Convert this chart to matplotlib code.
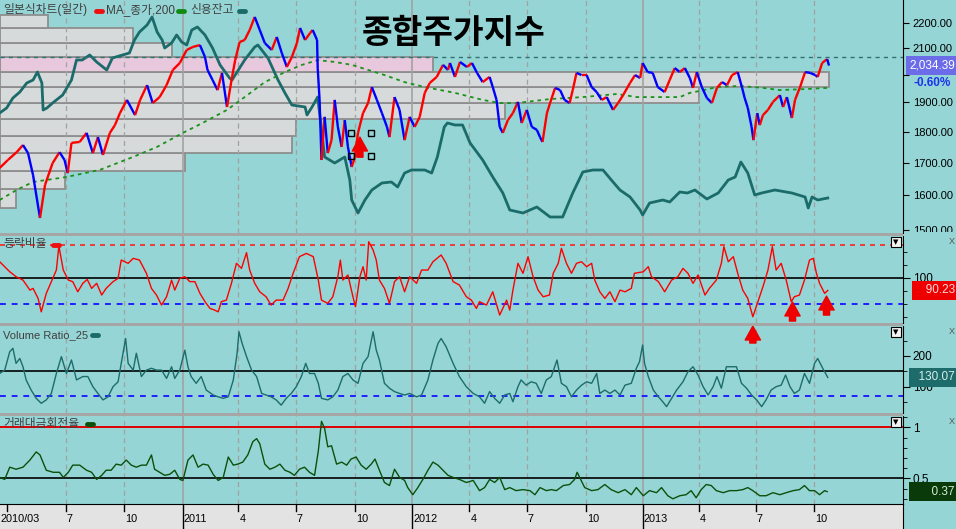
import numpy as np
import pandas as pd
import matplotlib
matplotlib.use("Agg")
import matplotlib.pyplot as plt
import matplotlib.dates as mdates
from matplotlib import transforms
from matplotlib.collections import LineCollection
from matplotlib.lines import Line2D
from matplotlib.patches import Rectangle
from matplotlib.ticker import FixedLocator, MultipleLocator, NullLocator, FixedFormatter

plt.rcParams['font.family'] = ['Liberation Sans', 'Noto Sans CJK KR', 'DejaVu Sans']

# ---------------- data ----------------
price_dates = [
    '2010-03-18','2010-03-31','2010-04-14','2010-04-24','2010-05-02','2010-05-10','2010-05-21','2010-05-29','2010-06-10','2010-06-21',
    '2010-06-29','2010-07-04','2010-07-10','2010-07-23','2010-08-03','2010-08-13','2010-08-21','2010-08-29','2010-09-09','2010-09-17',
    '2010-09-25','2010-10-06','2010-10-19','2010-10-27','2010-11-07','2010-11-16','2010-11-27','2010-12-08','2010-12-18','2010-12-29',
    '2011-01-09','2011-01-19','2011-01-30','2011-02-07','2011-02-11','2011-02-19','2011-02-27','2011-03-06','2011-03-14','2011-03-22',
    '2011-03-27','2011-04-03','2011-04-11','2011-04-19','2011-04-27','2011-05-05','2011-05-13','2011-05-24','2011-06-01','2011-06-09',
    '2011-06-17','2011-06-25','2011-07-03','2011-07-08','2011-07-16','2011-07-24','2011-07-28','2011-08-04','2011-08-05','2011-08-08',
    '2011-08-11','2011-08-16','2011-08-21','2011-08-27','2011-09-01','2011-09-06','2011-09-12','2011-09-17','2011-09-22','2011-09-28',
    '2011-10-03','2011-10-08','2011-10-16','2011-10-24','2011-10-30','2011-11-07','2011-11-15','2011-11-23','2011-11-27','2011-12-05',
    '2011-12-13','2011-12-21','2011-12-29',
    '2012-01-06','2012-01-14','2012-01-22','2012-01-30','2012-02-10','2012-02-20','2012-02-28','2012-03-02','2012-03-10','2012-03-18',
    '2012-03-29','2012-04-06','2012-04-14','2012-04-23','2012-05-04','2012-05-09','2012-05-15','2012-05-20','2012-05-25','2012-06-02',
    '2012-06-10','2012-06-18','2012-06-24','2012-07-02','2012-07-10','2012-07-18','2012-07-23','2012-07-27','2012-08-03','2012-08-08',
    '2012-08-16','2012-08-24','2012-08-31','2012-09-08','2012-09-13','2012-09-19','2012-09-27','2012-10-05','2012-10-13','2012-10-21',
    '2012-10-29','2012-11-06','2012-11-16','2012-11-24','2012-12-02','2012-12-13','2012-12-21','2012-12-29',
    '2013-01-02','2013-01-10','2013-01-18','2013-01-26','2013-02-06','2013-02-14','2013-02-22','2013-03-02','2013-03-10','2013-03-18',
    '2013-03-23','2013-03-29','2013-04-06','2013-04-14','2013-04-22','2013-04-30','2013-05-08','2013-05-16','2013-05-24','2013-06-02',
    '2013-06-09','2013-06-13','2013-06-18','2013-06-24','2013-06-27','2013-07-03','2013-07-07','2013-07-12','2013-07-20','2013-07-28',
    '2013-08-08','2013-08-13','2013-08-19','2013-08-24','2013-08-27','2013-09-01','2013-09-09','2013-09-17','2013-09-25','2013-10-03',
    '2013-10-07','2013-10-14','2013-10-22','2013-10-25']
price_close = [
    1683,1708,1733,1756,1730,1661,1534,1631,1698,1733,
    1708,1667,1763,1766,1796,1730,1782,1724,1796,1822,
    1863,1909,1856,1909,1962,1898,1919,1962,2018,2044,
    2094,2106,2113,2067,2018,1981,1944,2007,1884,1992,
    2055,2125,2133,2173,2226,2173,2121,2094,2145,2082,
    2029,2067,2121,2181,2133,2161,2173,2133,2025,1909,
    1708,1850,1730,1772,1909,1816,1750,1839,1750,1686,
    1717,1796,1863,1898,1955,1909,1863,1816,1782,1919,
    1874,1772,1850,
    1816,1850,1934,1970,1992,2037,2018,2044,1992,2048,
    2029,2044,2007,1973,1992,1955,1909,1816,1796,1839,
    1863,1902,1829,1874,1816,1806,1782,1766,1863,1898,
    1952,1944,1909,1898,1944,2007,1999,1999,1955,1937,
    1909,1919,1874,1898,1926,1970,1999,1988,
    2044,2010,2007,1955,1937,1981,2025,2010,2025,1988,
    1952,2010,1955,1916,1898,1952,1973,1962,1999,2010,
    1952,1916,1881,1816,1772,1863,1822,1856,1874,1902,
    1926,1884,1919,1874,1846,1909,1955,2010,2007,1999,
    1992,2044,2059,2034.39]
recent_high = 2066
last_change = '-0.60%'

ma_dates = ['2010-03-18','2010-04-14','2010-05-10','2010-07-02','2010-08-24','2010-10-15','2010-11-23','2011-01-03','2011-02-03','2011-03-14',
            '2011-04-11','2011-05-13','2011-06-14','2011-07-11','2011-08-05','2011-09-01','2011-09-28','2011-10-24','2011-11-19','2011-12-21',
            '2012-01-22','2012-03-10','2012-04-23','2012-05-20','2012-06-16','2012-08-08','2012-09-29','2012-11-22','2012-12-24','2013-03-02',
            '2013-03-18','2013-04-03','2013-04-30','2013-06-05','2013-07-12','2013-08-08','2013-09-19','2013-10-23']
ma_vals = [1586,1616,1640,1655,1677,1717,1750,1796,1829,1874,
           1919,1973,2010,2037,2055,2048,2037,2018,1999,1973,
           1955,1934,1909,1898,1898,1912,1919,1930,1919,1919,
           1934,1941,1955,1959,1952,1944,1948,1952]

credit_dates = [
    '2010-03-18','2010-03-29','2010-04-08','2010-04-19','2010-04-30','2010-05-10','2010-05-17','2010-05-24','2010-05-26','2010-06-01',
    '2010-06-10','2010-06-26','2010-07-10','2010-07-18','2010-07-27','2010-08-08','2010-08-19','2010-09-04','2010-09-13','2010-09-29',
    '2010-10-10','2010-10-18','2010-10-26','2010-11-07','2010-11-15','2010-11-23','2010-12-01','2010-12-05','2010-12-16','2010-12-24',
    '2011-01-01','2011-01-09','2011-01-17','2011-01-26','2011-02-07','2011-02-19','2011-03-03','2011-03-18','2011-03-22','2011-04-11',
    '2011-04-27','2011-05-02','2011-05-18','2011-06-03','2011-06-14','2011-06-25','2011-07-16','2011-07-19','2011-07-27','2011-08-05',
    '2011-08-16','2011-09-01','2011-09-17','2011-09-25','2011-09-28','2011-10-08','2011-10-19','2011-10-30','2011-11-15','2011-11-30',
    '2011-12-10','2011-12-21',
    '2012-01-01','2012-01-22','2012-02-02','2012-02-11','2012-02-22','2012-02-27','2012-03-10','2012-03-22','2012-04-03','2012-04-23',
    '2012-05-09','2012-05-25','2012-06-05','2012-06-26','2012-07-18','2012-08-08','2012-08-28','2012-09-13','2012-09-29','2012-10-15',
    '2012-10-31','2012-11-16','2012-11-27','2012-12-13','2012-12-29',
    '2013-01-02','2013-01-13','2013-02-03','2013-02-14','2013-03-02','2013-03-14','2013-03-26','2013-04-14','2013-05-02','2013-05-18',
    '2013-05-29','2013-06-07','2013-06-18','2013-06-29','2013-07-10','2013-07-31','2013-08-27','2013-09-17','2013-09-22','2013-09-28',
    '2013-10-07','2013-10-23']
credit_vals = [
    5.40,5.50,5.70,5.82,6.00,6.06,6.22,6.00,5.46,5.50,
    5.60,5.76,6.06,6.46,6.46,6.56,6.42,6.26,6.50,6.56,
    6.60,6.86,7.02,7.16,7.32,7.02,6.86,6.70,6.80,6.96,
    6.82,6.76,7.06,7.12,6.96,6.70,6.36,6.10,6.06,6.46,
    6.72,6.76,6.50,6.06,5.80,5.56,5.52,5.36,5.52,5.72,
    4.52,4.40,4.52,4.06,3.66,3.40,3.66,3.86,4.00,4.02,
    3.92,4.20,
    4.26,4.26,4.20,4.52,5.12,5.20,5.16,5.16,4.80,4.46,
    4.12,3.80,3.46,3.40,3.52,3.32,3.32,3.80,4.22,4.26,
    4.26,4.02,3.86,3.72,3.46,
    3.36,3.60,3.66,3.62,3.82,3.80,3.86,3.68,3.80,4.06,
    4.12,4.42,4.20,3.76,3.80,3.86,3.80,3.72,3.50,3.72,
    3.66,3.70]

# price bands of the volume profile and their relative volume
profile_edges = [1563,1619,1675,1731,1787,1843,1899,1955,2011,2067,2123,2179,2235]
profile_vol = [1.9,7.8,22.3,35.2,35.7,60.9,84.3,100.0,52.2,20.7,16.0,5.8]

adr_dates = [
    '2010-03-18','2010-03-26','2010-04-03','2010-04-13','2010-04-24','2010-05-05','2010-05-10','2010-05-18','2010-05-23','2010-05-31',
    '2010-06-08','2010-06-16','2010-06-20','2010-06-27','2010-07-05','2010-07-12','2010-07-20','2010-07-28','2010-08-04','2010-08-11',
    '2010-08-19','2010-08-27','2010-09-03','2010-09-14','2010-09-22','2010-09-27','2010-10-08','2010-10-16','2010-10-26','2010-11-06',
    '2010-11-14','2010-11-22','2010-11-30','2010-12-08','2010-12-16','2010-12-21','2010-12-29',
    '2011-01-06','2011-01-14','2011-01-22','2011-01-30','2011-02-07','2011-02-15','2011-02-22','2011-02-28','2011-03-05','2011-03-13',
    '2011-03-21','2011-03-29','2011-04-06','2011-04-14','2011-04-19','2011-04-27','2011-05-05','2011-05-15','2011-05-23','2011-05-31',
    '2011-06-11','2011-06-19','2011-06-27','2011-07-07','2011-07-18','2011-07-29','2011-08-06','2011-08-11','2011-08-21','2011-08-29',
    '2011-09-06','2011-09-10','2011-09-14','2011-09-22','2011-09-30','2011-10-04','2011-10-11','2011-10-16','2011-10-21','2011-10-25',
    '2011-11-01','2011-11-06','2011-11-11','2011-11-19','2011-11-27','2011-12-05','2011-12-13','2011-12-21','2011-12-29',
    '2012-01-09','2012-01-17','2012-01-27','2012-02-04','2012-02-17','2012-02-25','2012-03-07','2012-03-17','2012-03-28','2012-04-05',
    '2012-04-13','2012-04-18','2012-04-29','2012-05-09','2012-05-20','2012-05-31','2012-06-05','2012-06-10','2012-06-18','2012-06-26',
    '2012-07-04','2012-07-12','2012-07-20','2012-07-28','2012-08-07','2012-08-13','2012-08-21','2012-08-26','2012-09-03','2012-09-11',
    '2012-09-19','2012-09-27','2012-10-05','2012-10-13','2012-10-18','2012-10-26','2012-11-03','2012-11-11','2012-11-19','2012-11-27',
    '2012-12-05','2012-12-15','2012-12-20',
    '2013-01-03','2013-01-11','2013-01-16','2013-01-27','2013-02-06','2013-02-17','2013-02-27','2013-03-07','2013-03-15','2013-03-23',
    '2013-03-31','2013-04-11','2013-04-18','2013-04-29','2013-05-07','2013-05-11','2013-05-18','2013-05-26','2013-06-02','2013-06-10',
    '2013-06-18','2013-06-26','2013-07-04','2013-07-12','2013-07-20','2013-07-27','2013-08-02','2013-08-10','2013-08-18','2013-08-26',
    '2013-08-31','2013-09-08','2013-09-16','2013-09-24','2013-09-30','2013-10-05','2013-10-10','2013-10-18','2013-10-23']
adr_vals = [
    112.3,108.5,104.6,100.8,98.2,90.5,91.8,84.1,73.8,88.0,
    97.0,105.9,124.4,105.9,98.2,97.0,89.2,95.7,98.7,91.8,
    95.7,86.7,91.8,97.0,99.5,113.6,111.1,114.9,113.6,103.4,
    91.8,86.7,79.0,85.4,98.2,90.5,99.5,
    100.8,97.0,97.0,88.0,81.6,76.4,75.2,73.8,81.6,82.8,
    95.7,111.1,107.2,119.3,105.9,95.7,89.2,85.4,79.0,82.8,
    82.8,91.8,103.4,116.2,118.7,116.2,98.2,82.8,80.3,85.4,
    100.8,113.6,98.2,102.1,85.4,77.7,100.8,108.5,98.2,127.7,
    121.3,113.6,98.2,91.8,80.3,97.0,100.8,89.2,100.8,
    95.7,105.9,105.9,112.3,117.5,111.1,97.0,94.4,85.4,82.8,
    76.4,81.6,79.0,89.2,71.3,82.8,75.1,90.5,111.1,103.4,
    116.2,100.8,90.5,85.4,86.7,103.4,111.1,122.6,111.1,103.4,
    111.1,112.3,108.5,111.1,98.2,89.2,84.1,89.2,81.6,90.5,
    89.2,91.8,103.4,
    104.6,108.5,100.8,97.0,89.2,98.2,100.8,107.2,103.4,95.7,
    102.1,86.7,91.8,98.2,111.1,123.9,112.3,116.2,103.4,90.5,
    84.1,70.0,81.6,93.0,105.9,123.9,105.9,111.1,98.2,81.6,
    85.4,86.7,98.2,113.6,114.9,103.4,95.7,88.0,90.23]

vr_dates = [
    '2010-03-18','2010-03-26','2010-04-03','2010-04-08','2010-04-13','2010-04-19','2010-04-24','2010-04-29','2010-05-07','2010-05-15',
    '2010-05-23','2010-05-31','2010-06-08','2010-06-16','2010-06-24','2010-07-02','2010-07-10','2010-07-18','2010-07-28','2010-08-05',
    '2010-08-13','2010-08-21','2010-08-29','2010-09-06','2010-09-14','2010-09-22','2010-09-27','2010-10-04','2010-10-08','2010-10-16',
    '2010-10-21','2010-10-29','2010-11-06','2010-11-14','2010-11-22','2010-11-30','2010-12-08','2010-12-16','2010-12-21','2010-12-29',
    '2011-01-06','2011-01-11','2011-01-16','2011-01-24','2011-02-01','2011-02-09','2011-02-20','2011-02-28','2011-03-08','2011-03-16',
    '2011-03-24','2011-03-30','2011-04-02','2011-04-07','2011-04-14','2011-04-22','2011-04-30','2011-05-08','2011-05-15','2011-05-23',
    '2011-05-31','2011-06-08','2011-06-16','2011-06-24','2011-07-02','2011-07-10','2011-07-17','2011-07-23','2011-07-31','2011-08-06',
    '2011-08-11','2011-08-21','2011-08-29','2011-09-06','2011-09-14','2011-09-22','2011-09-30','2011-10-08','2011-10-16','2011-10-24',
    '2011-11-01','2011-11-06','2011-11-11','2011-11-19','2011-11-27','2011-12-05','2011-12-13','2011-12-21','2011-12-29',
    '2012-01-09','2012-01-17','2012-01-27','2012-02-04','2012-02-12','2012-02-17','2012-02-25','2012-03-07','2012-03-17','2012-03-28',
    '2012-04-08','2012-04-18','2012-04-26','2012-05-04','2012-05-12','2012-05-20','2012-05-28','2012-06-05','2012-06-10','2012-06-18',
    '2012-06-23','2012-07-01','2012-07-09','2012-07-17','2012-07-25','2012-08-02','2012-08-10','2012-08-19','2012-08-26','2012-09-03',
    '2012-09-11','2012-09-19','2012-09-27','2012-10-05','2012-10-13','2012-10-21','2012-10-26','2012-11-03','2012-11-11','2012-11-19',
    '2012-11-27','2012-12-05','2012-12-15','2012-12-23','2012-12-28',
    '2013-01-02','2013-01-05','2013-01-11','2013-01-19','2013-01-27','2013-02-03','2013-02-09','2013-02-17','2013-02-25','2013-03-07',
    '2013-03-15','2013-03-23','2013-03-31','2013-04-08','2013-04-16','2013-04-24','2013-04-30','2013-05-07','2013-05-15','2013-05-23',
    '2013-05-31','2013-06-08','2013-06-16','2013-06-24','2013-07-02','2013-07-10','2013-07-17','2013-07-25','2013-08-02','2013-08-10',
    '2013-08-17','2013-08-24','2013-08-31','2013-09-08','2013-09-16','2013-09-24','2013-10-02','2013-10-07','2013-10-15','2013-10-23']
vr_vals = [
    143,154,214,225,176,192,165,122,89,62,
    46,57,78,143,198,143,187,122,133,133,
    100,78,57,67,100,116,176,257,176,154,
    209,133,154,160,154,154,127,165,127,154,
    219,165,133,111,133,89,73,67,62,67,
    122,209,279,241,198,154,133,78,73,67,
    57,40,62,78,100,133,176,143,143,111,
    62,57,67,89,133,143,122,111,176,198,
    279,219,187,111,95,84,78,73,78,
    67,73,122,187,241,257,230,176,133,100,
    78,67,46,84,62,46,73,78,51,100,
    122,105,116,111,78,122,133,187,111,100,
    67,89,105,116,111,143,78,89,78,89,
    73,105,111,160,181,
    236,176,133,89,67,51,35,62,89,116,
    149,165,138,100,73,100,133,95,165,165,
    165,111,95,73,57,35,57,89,100,105,
    138,100,78,89,143,111,176,192,160,130.07]

turn_dates = [
    '2010-03-18','2010-03-26','2010-04-03','2010-04-13','2010-04-24','2010-05-05','2010-05-15','2010-05-21','2010-05-31','2010-06-11',
    '2010-06-21','2010-06-27','2010-07-05','2010-07-12','2010-07-23','2010-08-03','2010-08-11','2010-08-19','2010-08-27','2010-09-03',
    '2010-09-11','2010-09-19','2010-09-27','2010-10-05','2010-10-13','2010-10-21','2010-10-29','2010-11-06','2010-11-14','2010-11-19',
    '2010-11-27','2010-12-05','2010-12-13','2010-12-21','2010-12-29',
    '2011-01-03','2011-01-11','2011-01-19','2011-01-27','2011-02-04','2011-02-12','2011-02-20','2011-02-28','2011-03-08','2011-03-16',
    '2011-03-24','2011-03-31','2011-04-08','2011-04-16','2011-04-24','2011-04-30','2011-05-05','2011-05-13','2011-05-21','2011-05-29',
    '2011-06-06','2011-06-14','2011-06-22','2011-06-29','2011-07-07','2011-07-15','2011-07-23','2011-07-31','2011-08-06','2011-08-11',
    '2011-08-16','2011-08-21','2011-08-27','2011-09-04','2011-09-12','2011-09-20','2011-09-27','2011-10-05','2011-10-13','2011-10-21',
    '2011-10-29','2011-11-04','2011-11-11','2011-11-19','2011-11-27','2011-12-05','2011-12-13','2011-12-21','2011-12-26',
    '2012-01-03','2012-01-11','2012-01-19','2012-01-27','2012-02-04','2012-02-12','2012-02-20','2012-02-28','2012-03-07','2012-03-17',
    '2012-03-28','2012-04-08','2012-04-18','2012-04-26','2012-05-04','2012-05-12','2012-05-20','2012-05-28','2012-06-05','2012-06-15',
    '2012-06-26','2012-07-07','2012-07-15','2012-07-23','2012-08-02','2012-08-10','2012-08-18','2012-08-29','2012-09-08','2012-09-16',
    '2012-09-20','2012-09-24','2012-10-02','2012-10-13','2012-10-23','2012-11-03','2012-11-13','2012-11-24','2012-12-05','2012-12-15',
    '2012-12-23',
    '2013-01-03','2013-01-13','2013-01-24','2013-02-01','2013-02-11','2013-02-19','2013-03-02','2013-03-12','2013-03-20','2013-03-28',
    '2013-04-05','2013-04-13','2013-04-21','2013-04-29','2013-05-10','2013-05-20','2013-05-31','2013-06-10','2013-06-18','2013-06-26',
    '2013-07-07','2013-07-17','2013-07-28','2013-08-08','2013-08-18','2013-08-29','2013-09-08','2013-09-16','2013-09-24','2013-10-02',
    '2013-10-10','2013-10-18','2013-10-22']
turn_vals = [
    0.51,0.49,0.61,0.59,0.61,0.68,0.76,0.73,0.58,0.56,
    0.56,0.51,0.56,0.63,0.63,0.58,0.56,0.49,0.53,0.58,
    0.58,0.64,0.63,0.68,0.63,0.61,0.63,0.63,0.73,0.59,
    0.56,0.53,0.54,0.58,0.49,
    0.48,0.68,0.73,0.61,0.64,0.63,0.54,0.48,0.51,0.71,
    0.63,0.64,0.66,0.73,0.86,0.89,0.84,0.64,0.59,0.61,
    0.64,0.58,0.56,0.53,0.59,0.61,0.56,0.53,0.77,1.06,
    0.99,0.81,0.82,0.64,0.66,0.63,0.69,0.71,0.63,0.59,
    0.64,0.69,0.58,0.46,0.43,0.59,0.51,0.48,0.41,
    0.34,0.41,0.49,0.58,0.66,0.63,0.58,0.53,0.51,0.49,
    0.46,0.48,0.38,0.41,0.49,0.46,0.51,0.39,0.41,0.38,
    0.39,0.38,0.34,0.41,0.38,0.39,0.38,0.43,0.44,0.49,
    0.56,0.51,0.41,0.38,0.39,0.44,0.39,0.36,0.39,0.34,
    0.41,
    0.33,0.38,0.36,0.41,0.33,0.30,0.33,0.34,0.38,0.31,
    0.39,0.44,0.43,0.38,0.36,0.38,0.38,0.39,0.41,0.38,
    0.33,0.33,0.36,0.34,0.36,0.38,0.39,0.43,0.38,0.38,
    0.34,0.38,0.37]

# annotation marks drawn on the chart
mark_date, mark_lo, mark_hi = '2011-10-11', 1717, 1782
sel_dates = ['2011-09-27', '2011-10-28', '2011-09-27', '2011-10-28']
sel_prices = [1796, 1796, 1720, 1720]
adr_arrow_dates = ['2013-06-26', '2013-08-28', '2013-10-21']
adr_arrow_tip = [62.8, 81.3, 85.9]
adr_arrow_tail = [49.8, 66.7, 71.3]

tick_dates = ['2010-03-30','2010-07-01','2010-10-01','2011-01-03','2011-04-01','2011-07-01','2011-10-04',
              '2012-01-02','2012-04-02','2012-07-02','2012-10-04','2013-01-02','2013-04-01','2013-07-01','2013-10-01']
tick_labels = ['2010/03','7','10','2011','4','7','10','2012','4','7','10','2013','4','7','10']

# ---------------- drawing ----------------
def dn(lst):
    return mdates.date2num(pd.to_datetime(lst).to_numpy())

W, H, PW = 956, 529, 903
BG = '#95d5d5'
fig = plt.figure(figsize=(W / 100, H / 100), dpi=100, facecolor=BG)

def rect(y0, y1):
    return [0, 1 - y1 / H, PW / W, (y1 - y0) / H]

def fxy(x, y):
    return x / W, 1 - y / H

ax_bg = fig.add_axes(rect(0, 233))
ax = fig.add_axes(rect(0, 233), sharex=ax_bg)
ax2 = fig.add_axes(rect(236, 323), sharex=ax_bg)
ax3 = fig.add_axes(rect(326, 413), sharex=ax_bg)
ax4 = fig.add_axes(rect(416, 504), sharex=ax_bg)
axx = fig.add_axes(rect(504, 529), sharex=ax_bg)
ax_bg.set_zorder(1); ax.set_zorder(2); ax2.set_zorder(3)
ax.patch.set_visible(False)

x0 = dn(['2010-03-01'])[0] + 17.5
ax_bg.set_xlim(x0, x0 + PW * 1.588)

for a in (ax_bg, ax, ax2, ax3, ax4, axx):
    for s in ('left', 'top', 'bottom'):
        a.spines[s].set_visible(False)
    a.spines['right'].set_color('black')
    a.tick_params(axis='x', which='both', bottom=False, labelbottom=False)
    a.set_facecolor(BG)
ax_bg.spines['right'].set_visible(False)
ax_bg.tick_params(axis='y', which='both', left=False, labelleft=False)

# credit balance + volume profile on background axes
ax_bg.set_ylim(3.0, 7.66)
ptr = transforms.blended_transform_factory(ax_bg.transAxes, ax.transData)
cur_band = int(np.searchsorted(profile_edges, price_close[-1])) - 1
vmax = max(profile_vol)
for i, v in enumerate(profile_vol):
    lo, hi = profile_edges[i], profile_edges[i + 1]
    ax_bg.add_patch(Rectangle((0, lo), 0.918 * v / vmax, hi - lo, transform=ptr,
                              fc='#e8c8dc' if i == cur_band else '#d6dada', ec='#8e8e8e', lw=1.3, zorder=1))
ax_bg.plot(dn(credit_dates), credit_vals, color='#1b6b6b', lw=2.0, zorder=3)

# vertical grid
td = dn(tick_dates)
for d, lab in zip(td[1:], tick_labels[1:]):
    year = len(lab) == 4
    for a in (ax_bg, ax2, ax3, ax4):
        a.axvline(d, color='#a2a2a2', lw=1.2 if year else 0.9, ls='-' if year else (0, (4, 3)), zorder=1.5)

ARROW = dict(arrowstyle='simple,head_width=0.55,head_length=0.5,tail_width=0.22',
             mutation_scale=20, shrinkA=0, shrinkB=0, fc='#ee0000', ec='#ee0000')

# price panel
ax.set_yscale('log')
ax.set_ylim(1492, 2297)
pxs = dn(price_dates)
pys = np.array(price_close, dtype=float)
segs = [[(pxs[i], pys[i]), (pxs[i + 1], pys[i + 1])] for i in range(len(pxs) - 1)]
cols = ['#ff0000' if pys[i + 1] >= pys[i] else '#0000ff' for i in range(len(pxs) - 1)]
ax.add_collection(LineCollection(segs, colors=cols, linewidths=1.7, zorder=4))
ax.plot(dn(ma_dates), ma_vals, color='#18921a', lw=1.3, ls=(0, (2, 2.2)), zorder=3)
ax.axhline(recent_high, color='#2f7474', lw=1, ls=(0, (3, 3)), zorder=2)
ax.plot(dn(sel_dates), sel_prices, 's', mfc='none', mec='black', ms=5, mew=1, zorder=6)
md = dn([mark_date])[0]
ax.annotate('', xy=(md, mark_hi), xytext=(md, mark_lo), arrowprops=ARROW, zorder=6)

ax.yaxis.tick_right()
main_ticks = [1500, 1600, 1700, 1800, 1900, 2000, 2100, 2200]
ax.yaxis.set_major_locator(FixedLocator(main_ticks))
ax.yaxis.set_major_formatter(FixedFormatter(['' if t == 2000 else f'{t:.2f}' for t in main_ticks]))
ax.yaxis.set_minor_locator(NullLocator())
ax.tick_params(axis='y', which='major', direction='out', length=4, pad=3, labelsize=8, colors='black')

# oscillator panels
ax2.plot(dn(adr_dates), adr_vals, color='#ff0000', lw=1, zorder=3)
ax2.axhline(125, color='#ff2020', lw=1.2, ls=(0, (3, 3)), zorder=2)
ax2.axhline(100, color='black', lw=1.2, zorder=2)
ax2.axhline(80, color='#2020ff', lw=1.4, ls=(0, (3, 3)), zorder=2)
ax2.set_ylim(65.2, 132.1)

ax3.plot(dn(vr_dates), vr_vals, color='#1d6c6c', lw=1, zorder=3)
ax3.axhline(150, color='black', lw=1.2, zorder=2)
ax3.axhline(70, color='#2020ff', lw=1.4, ls=(0, (3, 3)), zorder=2)
ax3.set_ylim(14.3, 297.7)

ax4.plot(dn(turn_dates), turn_vals, color='#0c500c', lw=1, zorder=3)
ax4.axhline(1.0, color='#e00000', lw=1.4, zorder=2)
ax4.axhline(0.5, color='black', lw=1.2, zorder=2)
ax4.set_ylim(0.249, 1.112)

for a, ticks, labels, minor in ((ax2, [100], ['100'], 10), (ax3, [100, 200], ['100', '200'], 50),
                                (ax4, [0.5, 1.0], ['0.5', '1'], 0.1)):
    a.yaxis.tick_right()
    a.yaxis.set_major_locator(FixedLocator(ticks))
    a.yaxis.set_major_formatter(FixedFormatter(labels))
    a.yaxis.set_minor_locator(MultipleLocator(minor))
    a.tick_params(axis='y', which='major', direction='out', length=5, pad=2, labelsize=8.5, colors='black')
    a.tick_params(axis='y', which='minor', direction='out', length=3, colors='black')

ad = dn(adr_arrow_dates)
for d, tip, tail in zip(ad, adr_arrow_tip, adr_arrow_tail):
    ax2.annotate('', xy=(d, tip), xytext=(d, tail), annotation_clip=False, arrowprops=ARROW, zorder=8)

# value boxes on the right axis
def value_box(a, y, text, fc, tc):
    tr = transforms.blended_transform_factory(a.transAxes, a.transData)
    a.text(1.0575, y, text, transform=tr, ha='right', va='center', fontsize=8.5, color=tc,
           bbox=dict(boxstyle='square,pad=0.3', fc=fc, ec='none'), clip_on=False, zorder=10)

value_box(ax, price_close[-1], f'{price_close[-1]:,.2f}', '#6c6ce8', 'white')
ax.annotate(last_change, xy=(1, price_close[-1]),
            xycoords=transforms.blended_transform_factory(ax.transAxes, ax.transData),
            xytext=(29, -17), textcoords='offset pixels', ha='center', va='center',
            fontsize=8.5, color='#1a34f0', fontweight='bold', annotation_clip=False)
value_box(ax2, adr_vals[-1], f'   {adr_vals[-1]:.2f}', '#ee0000', '#ffd8d8')
value_box(ax3, vr_vals[-1], f'  {vr_vals[-1]:.2f}', '#1e6b6b', '#d6eeee')
value_box(ax4, turn_vals[-1], f'      {turn_vals[-1]:.2f}', '#0a3a0a', '#d6ecd6')

# bottom date band
axx.set_facecolor('#e3e3e3')
axx.spines['top'].set_visible(True)
axx.spines['top'].set_color('black')
axx.tick_params(axis='y', which='both', right=False, labelright=False, left=False, labelleft=False)
btr = transforms.blended_transform_factory(axx.transData, axx.transAxes)
for i, (d, lab) in enumerate(zip(td, tick_labels)):
    year = len(lab) == 4
    axx.axvline(d, ymin=0 if year else 0.72, ymax=1, color='black', lw=1)
    axx.annotate(lab, xy=(d, 0.4), xycoords=btr, xytext=(1 if i else -7, 0), textcoords='offset pixels',
                 ha='left', va='center', fontsize=7.8, color='black')

# panel separators
for y0 in (233, 323, 413):
    fig.add_artist(Rectangle(fxy(0, y0 + 3), PW / W, 3 / H, transform=fig.transFigure,
                             fc='#a6a6a6', ec='none', zorder=10))
fig.add_artist(Rectangle(fxy(PW + 1, 240), (W - PW - 1) / W, 8 / H, transform=fig.transFigure,
                         fc=BG, ec='none', zorder=10))

# titles and legends
def legend_dash(x, y, color):
    xa, ya = fxy(x, y)
    xb, _ = fxy(x + 6, y)
    fig.add_artist(Line2D([xa, xb], [ya, ya], transform=fig.transFigure, color=color, lw=3.5,
                          solid_capstyle='round', zorder=11))

def label(x, y, s, color='#404040', size=8.5):
    fig.text(*fxy(x, y), s, ha='left', va='center', fontsize=size, color=color, zorder=11)

label(3, 10, '일본식차트(일간)')
legend_dash(96, 11, '#ee1010')
label(106, 10, 'MA_종가,200')
legend_dash(178, 11, '#108a10')
label(190, 10, '신용잔고')
legend_dash(239, 11, '#1b6b6b')
label(3, 244, '등락비율')
legend_dash(53, 245, '#ee1010')
label(3, 335, 'Volume Ratio_25', size=8)
legend_dash(92, 335, '#1b6b6b')
label(3, 424, '거래대금회전율')
legend_dash(87, 424, '#0c500c')
fig.text(*fxy(454, 33), '종합주가지수', ha='center', va='center', fontsize=24,
         fontweight='bold', color='black', family=['Noto Sans CJK KR'], zorder=11)

# small panel buttons
for yb in (237, 327, 417):
    fig.add_artist(Rectangle(fxy(891, yb + 10), 10 / W, 10 / H, transform=fig.transFigure,
                             fc='#f4f4f4', ec='black', lw=0.8, zorder=11))
    fig.text(*fxy(896, yb + 5), '▼', ha='center', va='center', fontsize=5, family=['DejaVu Sans'], zorder=12)
    fig.text(*fxy(952, yb + 4), 'X', ha='center', va='center', fontsize=6.5, color='#555555', zorder=12)

fig.savefig('out.png', dpi=100, facecolor=BG)
